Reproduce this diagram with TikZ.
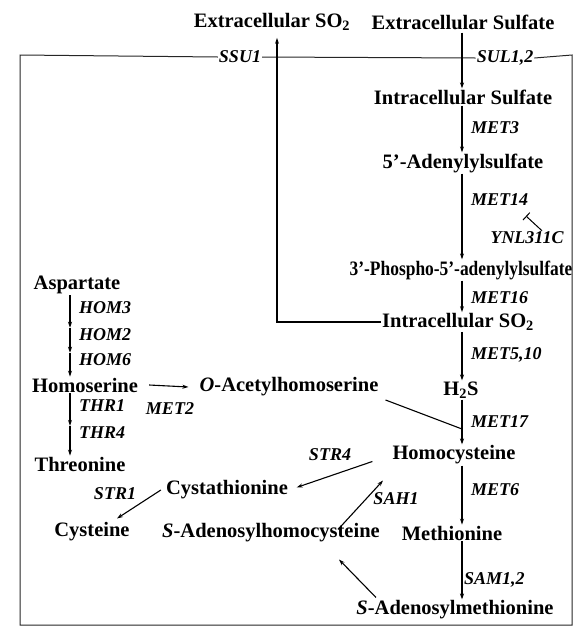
\documentclass[tikz,border=0pt]{standalone}
\usepackage{fontspec}
\setmainfont{Liberation Serif}
\usetikzlibrary{arrows.meta,positioning,calc}

\tikzset{
  met/.style={font=\fontsize{20.5}{22}\selectfont\bfseries, inner sep=1pt},
  gene/.style={font=\fontsize{18}{19}\selectfont\bfseries\itshape, inner sep=1pt},
  rxn/.style={line width=1.1pt, -{Stealth[length=6pt,width=4pt]}},
  memb/.style={line width=1pt, black!85},
  inhib/.style={line width=1pt, -{Bar[width=10pt]}},
}

\begin{document}
\begin{tikzpicture}[x=1pt,y=-1pt]
\useasboundingbox (0,0) rectangle (575,630);
% columns of the arrows
\coordinate (col) at (462,0);
\coordinate (exp) at (277,0);
\coordinate (lft) at (70,0);
% sulfate branch
\node[met] (exso2) at (272,22) {Extracellular SO\textsubscript{2}};
\node[met] (exsul) at (463,22) {Extracellular Sulfate};
\node[met] (insul) at (463,97) {Intracellular Sulfate};
\node[met] (aps) at (463,163) {5’-Adenylylsulfate};
\node[met] (paps) at (461,270) {\scalebox{0.85}[1]{3’-Phospho-5’-adenylylsulfate}};
\node[met] (inso2) at (458,322) {Intracellular SO\textsubscript{2}};
\node[met] (h2s) at (461,390) {H\textsubscript{2}S};
\node[met] (hcy) at (454,455) {Homocysteine};
\node[met] (met) at (452,533) {Methionine};
\node[met] (sam) at (455,610) {\textit{S}-Adenosylmethionine};
\node[met] (sah) at (271,533) {\textit{S}-Adenosylhomocysteine};
\node[met] (cysta) at (227,490) {Cystathionine};
\node[met] (cys) at (92,532) {Cysteine};
% aspartate branch
\node[met] (asp) at (77,285) {Aspartate};
\node[met] (hser) at (85,385) {Homoserine};
\node[met] (oah) at (289,387) {\textit{O}-Acetylhomoserine};
\node[met] (thr) at (80,464) {Threonine};

% genes
\node[gene] (ssu1) at (240,57) {SSU1};
\node[gene] (sul) at (505,58) {SUL1,2};
\node[gene, anchor=west] (met3) at (470,128) {MET3};
\node[gene, anchor=west] (met14) at (470,200) {MET14};
\node[gene] (ynl) at (527,238) {YNL311C};
\node[gene, anchor=west] (met16) at (470,298) {MET16};
\node[gene, anchor=west] (met510) at (470,355) {MET5,10};
\node[gene, anchor=west] (met17) at (470,422) {MET17};
\node[gene, anchor=west] (met6) at (470,490) {MET6};
\node[gene, anchor=west] (sam12) at (463,580) {SAM1,2};
\node[gene] (sah1) at (396,499) {SAH1};
\node[gene] (str4) at (330,455) {STR4};
\node[gene] (str1) at (115,494) {STR1};
\node[gene] (met2) at (170,409) {MET2};
\node[gene, anchor=west] (hom3) at (78,308) {HOM3};
\node[gene, anchor=west] (hom2) at (78,335) {HOM2};
\node[gene, anchor=west] (hom6) at (78,360) {HOM6};
\node[gene, anchor=west] (thr1) at (78,406) {THR1};
\node[gene, anchor=west] (thr4) at (78,433) {THR4};

% cell boundary
\coordinate (tl) at (20,55);
\coordinate (bl) at (20,625);
\coordinate (br) at (572,625);
\coordinate (tr) at (572,55);
\draw[memb] (ssu1.west) -- (tl) -- (bl) -- (br) -- (tr) -- (sul.east);
\draw[memb] (ssu1.east) -- (sul.west);

% sulfate assimilation
\draw[rxn] ([yshift=-2pt]exsul.south -| col) -- (insul.north -| col);
\draw[rxn] (insul.south -| col) -- (aps.north -| col);
\draw[rxn] (aps.south -| col) -- (paps.north -| col);
\draw[rxn] (paps.south -| col) -- (inso2.north -| col);
\draw[rxn] (inso2.south -| col) -- (h2s.north -| col);
\draw[rxn] (h2s.south -| col) -- (hcy.north -| col);
\draw[rxn] (hcy.south -| col) -- (met.north -| col);
\draw[rxn] (met.south -| col) -- (sam.north -| col);
\draw[rxn] (inso2.west) -| ([yshift=-6pt]exso2.south -| exp);
\coordinate (inhe) at (526,216);
\draw[inhib] ([xshift=15pt]ynl.north) -- (inhe);
\coordinate (j17) at (462,429);
\draw[line width=1.1pt] ([shift={(6,13)}]oah.east) -- (j17);

% methyl cycle
\draw[rxn] ([shift={(-79,-2)}]sam.north) -- ([shift={(68,16)}]sah.south);
\draw[rxn] ([shift={(67,7)}]sah.north) -- ([shift={(-71,15)}]hcy.south);
\draw[rxn, shorten <=20pt, shorten >=8pt] (hcy.west) -- (cysta.east);
\draw[rxn] ([shift={(-4,0)}]cysta.west) -- ([shift={(25,-3)}]cys.north);

% aspartate branch
\draw[rxn] (asp.south -| lft) -- (hom2.north -| lft);
\draw[rxn] (hom2.north -| lft) -- (hom6.north -| lft);
\draw[rxn] (hom6.north -| lft) -- (hser.north -| lft);
\draw[rxn] (hser.south -| lft) -- (thr4.north -| lft);
\draw[rxn] (thr4.north -| lft) -- (thr.north -| lft);
\draw[rxn] ([xshift=10pt]hser.east) -- ([xshift=-10pt]oah.west);
\end{tikzpicture}
\end{document}
